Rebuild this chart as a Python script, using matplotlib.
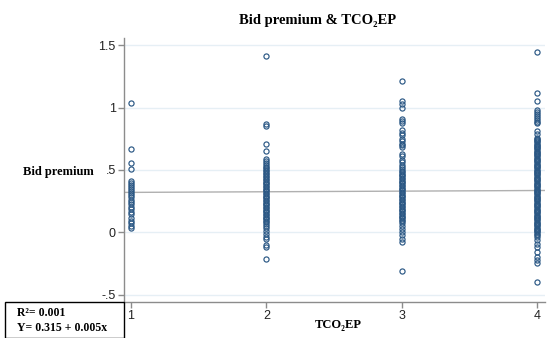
import matplotlib.pyplot as plt
import numpy as np

# TCO2EP category (x) and bid premium values
bp_1 = [1.04, 0.668, 0.553, 0.505, 0.41, 0.395, 0.378, 0.362, 0.347, 0.331,
        0.316, 0.298, 0.281, 0.262, 0.245, 0.228, 0.205, 0.186, 0.166, 0.146,
        0.118, 0.092, 0.071, 0.05, 0.031]
bp_2 = [1.41, 0.87, 0.855, 0.71, 0.65, 0.585, 0.572, 0.556, 0.541, 0.527,
        0.512, 0.501, 0.489, 0.477, 0.466, 0.452, 0.441, 0.43, 0.418, 0.407,
        0.396, 0.384, 0.373, 0.362, 0.351, 0.339, 0.328, 0.317, 0.306, 0.294,
        0.283, 0.272, 0.261, 0.249, 0.238, 0.227, 0.216, 0.204, 0.193, 0.182,
        0.171, 0.159, 0.148, 0.137, 0.126, 0.114, 0.103, 0.092, 0.081, 0.069,
        0.052, 0.034, 0.012, -0.01, -0.035, -0.054, -0.10, -0.12, -0.216]
bp_3 = [1.21, 1.05, 1.03, 1.0, 0.91, 0.89, 0.875, 0.82, 0.80, 0.78,
        0.75, 0.73, 0.71, 0.70, 0.68, 0.63, 0.61, 0.58, 0.56, 0.54,
        0.52, 0.505, 0.493, 0.482, 0.471, 0.46, 0.448, 0.437, 0.426, 0.415,
        0.403, 0.392, 0.381, 0.37, 0.358, 0.347, 0.336, 0.325, 0.313, 0.302,
        0.291, 0.28, 0.268, 0.257, 0.246, 0.235, 0.223, 0.212, 0.201, 0.19,
        0.178, 0.167, 0.156, 0.145, 0.133, 0.122, 0.111, 0.1, 0.088, 0.075,
        0.05, 0.028, 0.004, -0.022, -0.05, -0.076, -0.313]
bp_4 = [1.445, 1.12, 1.055, 0.98, 0.965, 0.95, 0.935, 0.92, 0.903, 0.888,
        0.874, 0.81, 0.787, 0.76, 0.75, 0.741, 0.731, 0.722, 0.712, 0.703,
        0.693, 0.684, 0.674, 0.665, 0.655, 0.646, 0.636, 0.627, 0.617, 0.608,
        0.598, 0.589, 0.579, 0.57, 0.56, 0.551, 0.541, 0.532, 0.522, 0.513,
        0.503, 0.494, 0.484, 0.475, 0.465, 0.456, 0.446, 0.437, 0.427, 0.418,
        0.408, 0.399, 0.389, 0.38, 0.37, 0.361, 0.351, 0.342, 0.332, 0.323,
        0.313, 0.304, 0.294, 0.285, 0.275, 0.266, 0.256, 0.247, 0.237, 0.228,
        0.218, 0.209, 0.199, 0.19, 0.18, 0.171, 0.161, 0.152, 0.142, 0.133,
        0.123, 0.114, 0.104, 0.095, 0.085, 0.076, 0.066, 0.057, 0.047, 0.038,
        0.028, 0.019, 0.009, 0.0, -0.012, -0.024, -0.035, -0.06, -0.09, -0.12,
        -0.155, -0.195, -0.22, -0.25, -0.40]
groups = [1, 2, 3, 4]
intercept, slope = 0.315, 0.005
r2 = 0.001

navy = "#2a5784"
serif = ["Liberation Serif", "DejaVu Serif"]

fig = plt.figure(figsize=(5.55, 3.38), dpi=100)
ax = fig.add_axes([124 / 555, 1 - 302 / 338, 421 / 555, 264 / 338])

for g, vals in zip(groups, [bp_1, bp_2, bp_3, bp_4]):
    ax.plot([g] * len(vals), vals, linestyle="none", marker="o", ms=3.7,
            mfc="none", mec=navy, mew=0.85, zorder=3)

xs = np.array([0.9, 4.2])
ax.plot(xs, intercept + slope * xs, color="#b0b0b0", lw=1, zorder=2)

ax.set_xlim(0.948, 4.06)
ax.set_ylim(-0.559, 1.558)
ax.set_yticks([-0.5, 0, 0.5, 1, 1.5])
ax.set_yticklabels(["-.5", "0", ".5", "1", "1.5"])
ax.set_xticks(groups)
ax.grid(axis="y", color="#e6eff5", lw=1)
ax.set_axisbelow(True)
for s in ["top", "right"]:
    ax.spines[s].set_visible(False)
for s in ["left", "bottom"]:
    ax.spines[s].set_color("#8c8c8c")
    ax.spines[s].set_linewidth(1)
ax.tick_params(colors="#8c8c8c", labelcolor="#222222", length=4, width=1,
               labelsize=9, pad=2)
for lab in ax.get_xticklabels() + ax.get_yticklabels():
    lab.set_family(["Liberation Sans", "DejaVu Sans"])

fig.text(0.573, 0.94, "Bid premium & TCO\u2082EP", family=serif,
         fontweight="bold", fontsize=10.5, ha="center", va="center")
fig.text(58 / 555, 1 - 172 / 338, "Bid premium", family=serif,
         fontweight="bold", fontsize=9, ha="center", va="center")
fig.text(338 / 555, 1 - 325 / 338, "TCO\u2082EP", family=serif,
         fontweight="bold", fontsize=9, ha="center", va="center")

# regression info box
fig.patches.append(plt.Rectangle((5 / 555, 0), 119 / 555, 36 / 338,
                                 transform=fig.transFigure, fill=False,
                                 edgecolor="black", lw=1))
fig.text(17 / 555, 1 - 313 / 338, f"R\u00b2= {r2:.3f}", family=serif,
         fontweight="bold", fontsize=8.5, ha="left", va="center")
fig.text(17 / 555, 1 - 328 / 338, f"Y= {intercept:.3f} + {slope:.3f}x",
         family=serif, fontweight="bold", fontsize=8.5, ha="left",
         va="center")

fig.savefig("out.png", dpi=100)
